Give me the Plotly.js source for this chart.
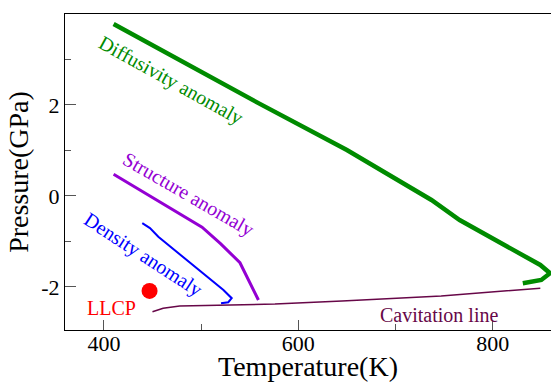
<!DOCTYPE html>
<html>
<head>
<meta charset="utf-8">
<script src="https://cdn.plot.ly/plotly-3.0.1.min.js"></script>
<style>html,body{margin:0;padding:0;background:#fff;}#chart{width:551px;height:382px;}</style>
</head>
<body>
<div id="chart"></div>
<script>
// Diffusivity anomaly (green)
const diffT = [410, 559, 650, 737, 766, 849, 859, 850, 831];
const diffP = [3.78, 2.04, 1.01, -0.09, -0.53, -1.52, -1.70, -1.85, -1.92];
// Structure anomaly (violet)
const structT = [410, 501, 520, 540, 559];
const structP = [0.475, -0.69, -1.05, -1.47, -2.29];
// Density anomaly (blue)
const densT = [439.5, 447.4, 456, 523, 531.5, 528, 520.5];
const densP = [-0.60, -0.71, -0.90, -2.07, -2.25, -2.34, -2.36];
// Cavitation line (maroon)
const cavT = [450, 461, 478, 576, 645, 747, 849];
const cavP = [-2.55, -2.47, -2.42, -2.38, -2.31, -2.20, -2.03];
// Liquid-liquid critical point
const llcpT = [447];
const llcpP = [-2.09];
// Ticks
const xTickVals = [400, 600, 800];
const xTickText = ["400", "600", "800"];
const yTickVals = [-2, 0, 2];
const yTickText = ["-2", "0", "2"];

const serif = "'Liberation Serif', 'Times New Roman', 'DejaVu Serif', serif";
const green = "rgb(0,139,0)", violet = "rgb(148,0,211)", blue = "rgb(0,0,255)",
      maroon = "rgb(103,7,72)", red = "rgb(255,0,0)";

const traces = [
  {x: diffT, y: diffP, mode: "lines", line: {color: green, width: 4.5}, hoverinfo: "skip"},
  {x: structT, y: structP, mode: "lines", line: {color: violet, width: 3}, hoverinfo: "skip"},
  {x: densT, y: densP, mode: "lines", line: {color: blue, width: 2}, hoverinfo: "skip"},
  {x: cavT, y: cavP, mode: "lines", line: {color: maroon, width: 1.5}, hoverinfo: "skip"},
  {x: llcpT, y: llcpP, mode: "markers", marker: {color: red, size: 16}, hoverinfo: "skip"}
];

const ann = (text, x, y, color, angle) => ({
  text: text, x: x, y: y, xref: "x", yref: "y", showarrow: false,
  textangle: angle, font: {family: serif, size: 20, color: color},
  xanchor: "center", yanchor: "middle"
});

const layout = {
  width: 551, height: 382,
  margin: {l: 65, r: 0, t: 14, b: 52},
  paper_bgcolor: "#fff", plot_bgcolor: "#fff",
  showlegend: false,
  font: {family: serif},
  xaxis: {
    range: [360, 860], showgrid: false, zeroline: false,
    showline: true, linecolor: "#000", linewidth: 1, mirror: true,
    ticks: "inside", ticklen: 10, tickwidth: 1, tickcolor: "#555",
    tickmode: "array", tickvals: xTickVals, ticktext: xTickText,
    ticklabelstandoff: -6,
    minor: {dtick: 100, tick0: 400, ticks: "inside", ticklen: 6, tickcolor: "#555", showgrid: false},
    tickfont: {family: serif, size: 22, color: "#000"},
    title: {text: "Temperature(K)", font: {family: serif, size: 28, color: "#000"}, standoff: 2}
  },
  yaxis: {
    range: [-2.95, 4], showgrid: false, zeroline: false,
    showline: true, linecolor: "#000", linewidth: 1,
    ticks: "inside", ticklen: 11, tickwidth: 1, tickcolor: "#555",
    tickmode: "array", tickvals: yTickVals, ticktext: yTickText,
    minor: {dtick: 1, tick0: 0, ticks: "inside", ticklen: 6, tickcolor: "#555", showgrid: false},
    tickfont: {family: serif, size: 22, color: "#000"},
    title: {text: "Pressure(GPa)", font: {family: serif, size: 28, color: "#000"}, standoff: 4}
  },
  annotations: [
    ann("Diffusivity anomaly", 469, 2.53, green, 29),
    ann("Structure anomaly", 487, 0.04, violet, 30),
    ann("Density anomaly", 440, -1.29, blue, 33),
    ann("LLCP", 408, -2.46, red, 0),
    ann("Cavitation line", 745, -2.62, maroon, 0)
  ]
};

Plotly.newPlot("chart", traces, layout, {staticPlot: true, displayModeBar: false});
</script>
</body>
</html>
